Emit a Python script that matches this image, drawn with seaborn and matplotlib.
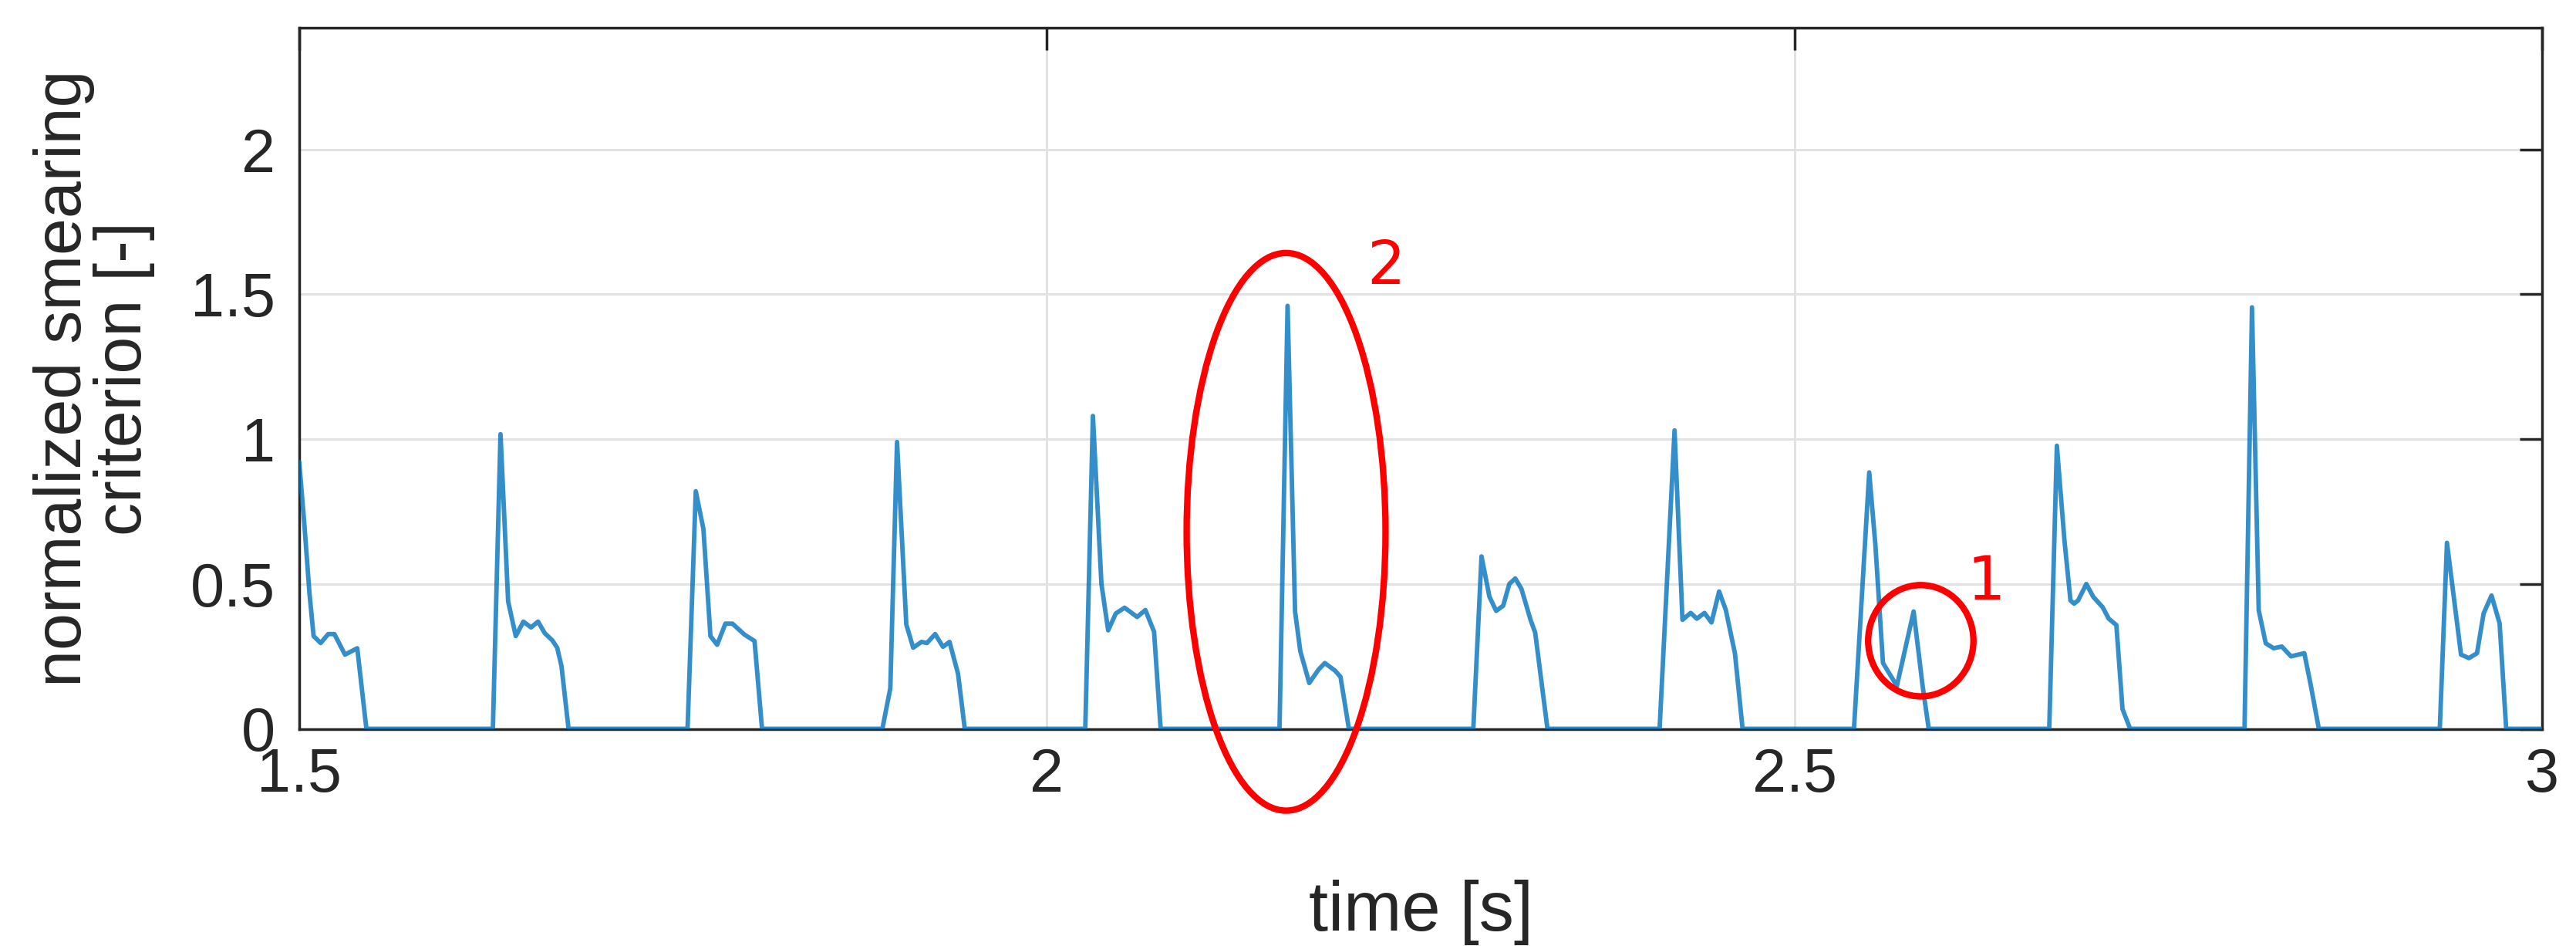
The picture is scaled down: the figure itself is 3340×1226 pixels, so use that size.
import numpy as np
import pandas as pd
import matplotlib
matplotlib.use("Agg")
import matplotlib.pyplot as plt
from matplotlib.patches import Ellipse
import seaborn as sns

# ---------------- data ----------------
p01_t = [1.5000, 1.5035, 1.5068, 1.5096, 1.5143, 1.5194, 1.5235, 1.5306, 1.5388, 1.5449]
p01_y = [0.92, 0.70, 0.47, 0.32, 0.296, 0.327, 0.327, 0.256, 0.278, 0.0]

p02_t = [1.6295, 1.6346, 1.6397, 1.6448, 1.6499, 1.6550, 1.6597, 1.6642, 1.6693, 1.6725, 1.6754, 1.6801]
p02_y = [0.0, 1.017, 0.44, 0.32, 0.37, 0.35, 0.37, 0.33, 0.305, 0.28, 0.216, 0.0]

p03_t = [1.7597, 1.7652, 1.7703, 1.7750, 1.7795, 1.7850, 1.7897, 1.7978, 1.8045, 1.8095]
p03_y = [0.0, 0.82, 0.69, 0.32, 0.29, 0.363, 0.363, 0.325, 0.303, 0.0]

p04_t = [1.8900, 1.8953, 1.8998, 1.9060, 1.9106, 1.9162, 1.9198, 1.9253, 1.9305, 1.9349, 1.9406, 1.9451]
p04_y = [0.0, 0.14, 0.99, 0.36, 0.28, 0.30, 0.296, 0.327, 0.283, 0.30, 0.19, 0.0]

p05_t = [2.0257, 2.0308, 2.0365, 2.0410, 2.0461, 2.0520, 2.0604, 2.0659, 2.0717, 2.0761]
p05_y = [0.0, 1.08, 0.50, 0.34, 0.398, 0.418, 0.386, 0.41, 0.335, 0.0]

p06_t = [2.1556, 2.1610, 2.1660, 2.1695, 2.1755, 2.1818, 2.1859, 2.1929, 2.1964, 2.2020]
p06_y = [0.0, 1.46, 0.405, 0.268, 0.158, 0.205, 0.227, 0.20, 0.179, 0.0]

p07_t = [2.2852, 2.2907, 2.2960, 2.3005, 2.3052, 2.3093, 2.3133, 2.3174, 2.3235, 2.3266, 2.3348]
p07_y = [0.0, 0.595, 0.456, 0.407, 0.425, 0.50, 0.519, 0.483, 0.376, 0.332, 0.0]

p08_t = [2.4098, 2.4198, 2.4251, 2.4306, 2.4347, 2.4398, 2.4445, 2.4496, 2.4541, 2.4602, 2.4653]
p08_y = [0.0, 1.03, 0.376, 0.40, 0.38, 0.40, 0.367, 0.474, 0.41, 0.26, 0.0]

p09_t = [2.5398, 2.5500, 2.5541, 2.5592, 2.5685, 2.5797, 2.5857, 2.5898]
p09_y = [0.0, 0.885, 0.636, 0.227, 0.148, 0.405, 0.148, 0.0]

p10_t = [2.6704, 2.6755, 2.6806, 2.6846, 2.6870, 2.6897, 2.6952, 2.6999, 2.7061, 2.7102, 2.7153, 2.7194, 2.7245]
p10_y = [0.0, 0.977, 0.648, 0.443, 0.432, 0.443, 0.50, 0.455, 0.42, 0.38, 0.358, 0.068, 0.0]

p11_t = [2.8010, 2.8060, 2.8105, 2.8152, 2.8205, 2.8259, 2.8321, 2.8410, 2.8454, 2.8507]
p11_y = [0.0, 1.455, 0.409, 0.295, 0.278, 0.284, 0.25, 0.261, 0.148, 0.0]

p12_t = [2.9316, 2.9364, 2.9396, 2.9458, 2.9511, 2.9565, 2.9609, 2.9662, 2.9716, 2.9760, 3.0000]
p12_y = [0.0, 0.642, 0.511, 0.256, 0.244, 0.261, 0.398, 0.46, 0.364, 0.0, 0.0]

x_ticks = [1.5, 2.0, 2.5, 3.0]
x_tick_labels = ["1.5", "2", "2.5", "3"]
y_ticks = [0.0, 0.5, 1.0, 1.5, 2.0]
y_tick_labels = ["0", "0.5", "1", "1.5", "2"]

x_label = "time [s]"
y_label = "normalized smearing\ncriterion [-]"

# annotation marks (centre, width, height in data units) and labels
mark2_center, mark2_w, mark2_h = (2.160, 0.68), 0.133, 1.925
mark1_center, mark1_w, mark1_h = (2.5845, 0.304), 0.0704, 0.384
mark2_label = ("2", 2.227, 1.595)
mark1_label = ("1", 2.628, 0.505)

# ---------------- build table ----------------
pulses_t = [p01_t, p02_t, p03_t, p04_t, p05_t, p06_t, p07_t, p08_t, p09_t, p10_t, p11_t, p12_t]
pulses_y = [p01_y, p02_y, p03_y, p04_y, p05_y, p06_y, p07_y, p08_y, p09_y, p10_y, p11_y, p12_y]
df = pd.DataFrame({
    "time": np.concatenate(pulses_t),
    "crit": np.concatenate(pulses_y),
})

# ---------------- style ----------------
sns.set_theme(style="white")
plt.rcParams["font.family"] = ["Liberation Sans", "DejaVu Sans"]

fig, ax = plt.subplots(figsize=(33.4, 12.26), dpi=100)
fig.subplots_adjust(left=388 / 3340, right=3296 / 3340,
                    bottom=1 - 944.5 / 1226, top=1 - 36 / 1226)

sns.lineplot(data=df, x="time", y="crit", ax=ax, sort=False, estimator=None,
             color="#0072BD", alpha=0.8, linewidth=4.2, zorder=3)

ax.set_xlim(1.5, 3.0)
ax.set_ylim(0, 2.42)
ax.set_xticks(x_ticks)
ax.set_xticklabels(x_tick_labels)
ax.set_yticks(y_ticks)
ax.set_yticklabels(y_tick_labels)

ax.grid(True, color="#e2e2e2", linewidth=2.2)
ax.set_axisbelow(True)
for s in ax.spines.values():
    s.set_visible(True)
    s.set_color("#262626")
    s.set_linewidth(2.5)

ax.tick_params(axis="both", direction="in", length=21, width=2.5,
               top=True, right=True, labelsize=57, colors="#262626")
ax.tick_params(axis="x", pad=17)
ax.tick_params(axis="y", pad=22)

ax.set_xlabel(x_label, fontsize=65, color="#262626", labelpad=70)
ax.set_ylabel(y_label, fontsize=62, color="#262626", labelpad=33, linespacing=0.97)

ax.add_patch(Ellipse(mark2_center, mark2_w, mark2_h, fill=False,
                     edgecolor="#ff0000", linewidth=6, clip_on=False, zorder=4))
ax.add_patch(Ellipse(mark1_center, mark1_w, mark1_h, fill=False,
                     edgecolor="#ff0000", linewidth=6, clip_on=False, zorder=4))
for txt, tx, ty in (mark2_label, mark1_label):
    ax.text(tx, ty, txt, color="#ff0000", fontsize=56, family="DejaVu Sans",
            ha="center", va="center", zorder=5)

fig.savefig("out.png", dpi=100, facecolor="white")
